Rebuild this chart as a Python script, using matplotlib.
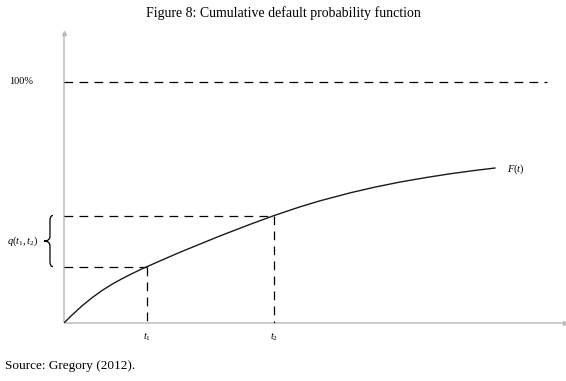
import matplotlib
matplotlib.use("Agg")
import matplotlib.pyplot as plt
from matplotlib.path import Path
from matplotlib.patches import PathPatch

plt.rcParams['font.family'] = ['Liberation Serif', 'DejaVu Serif']
plt.rcParams['mathtext.fontset'] = 'custom'
plt.rcParams['mathtext.rm'] = 'Liberation Serif'
plt.rcParams['mathtext.it'] = 'Liberation Serif:italic'

# Data
t_vals = [0, 0.16, 0.36, 0.56, 0.76, 0.96, 1.16, 1.36, 1.56, 1.66, 1.92, 2.32, 2.71,
          3.11, 3.71, 4.21, 4.71, 5.11, 5.71, 6.21, 6.71, 7.21, 7.70, 8.20, 8.60]
F_vals = [0, 0.033, 0.071, 0.105, 0.135, 0.161, 0.184, 0.205, 0.225, 0.234, 0.258, 0.294, 0.327,
          0.361, 0.409, 0.447, 0.482, 0.507, 0.540, 0.564, 0.585, 0.603, 0.619, 0.633, 0.643]
t1, t2 = 1.66, 4.19
F_t1, F_t2 = 0.234, 0.446
full = 1.0
full_end = 9.65

W, H = 566, 381
fig = plt.figure(figsize=(W/100, H/100), dpi=100)
ax = fig.add_axes([64/W, (H-323)/H, (565-64)/W, (323-33)/H])
ax.set_xlim(0, 10)
ax.set_ylim(0, 1.2033)
ax.axis('off')

gray = '#bdbdbd'
ax.plot([0, 10], [0, 0], color=gray, lw=1.1, clip_on=False, solid_capstyle='butt')
ax.plot([0, 0], [0, 1.2033], color=gray, lw=1.1, clip_on=False, solid_capstyle='butt')
ax.plot([10], [0], marker='>', color=gray, ms=3, clip_on=False)
ax.plot([0], [1.2033], marker='^', color=gray, ms=3, clip_on=False)

dash = dict(color='black', lw=0.9, dashes=(7, 5))
ax.plot([0, full_end], [full, full], **dash)
ax.plot([0, t1], [F_t1, F_t1], **dash)
ax.plot([t1, t1], [F_t1, 0], **dash)
ax.plot([0, t2], [F_t2, F_t2], **dash)
ax.plot([t2, t2], [F_t2, 0], **dash)

ax.plot(t_vals, F_vals, color='#1a1a1a', lw=1.0, solid_joinstyle='round')

# brace
xv, xh, xtip = -0.28, -0.22, -0.40
mid = (F_t1 + F_t2) / 2
d = 0.02
verts = [(xh, F_t2), (xv, F_t2), (xv, F_t2 - d),
         (xv, mid + d), (xv, mid), (xtip, mid),
         (xv, mid), (xv, mid - d),
         (xv, F_t1 + d), (xv, F_t1), (xh, F_t1)]
codes = [Path.MOVETO, Path.CURVE3, Path.CURVE3,
         Path.LINETO, Path.CURVE3, Path.CURVE3,
         Path.CURVE3, Path.CURVE3,
         Path.LINETO, Path.CURVE3, Path.CURVE3]
ax.add_patch(PathPatch(Path(verts, codes), fill=False, lw=0.9, color='black', clip_on=False))

ax.text(-0.52, mid, r'$q(t_1, t_2)$', fontsize=7.5, ha='right', va='center')
ax.text(-0.85, full, '100%', fontsize=7.5, ha='center', va='center')
ax.text(8.85, F_vals[-1] - 0.005, r'$F(t)$', fontsize=7.5, ha='left', va='center')
ax.text(t1, -0.055, r'$t_1$', fontsize=7.5, ha='center', va='center')
ax.text(t2, -0.055, r'$t_2$', fontsize=7.5, ha='center', va='center')

fig.text(283/W, 1 - 13/H, 'Figure 8: Cumulative default probability function', fontsize=10,
         ha='center', va='center')
fig.text(5/W, 1 - 366/H, 'Source: Gregory (2012).', fontsize=9.5, ha='left', va='center')

fig.savefig('out.png', dpi=100)
